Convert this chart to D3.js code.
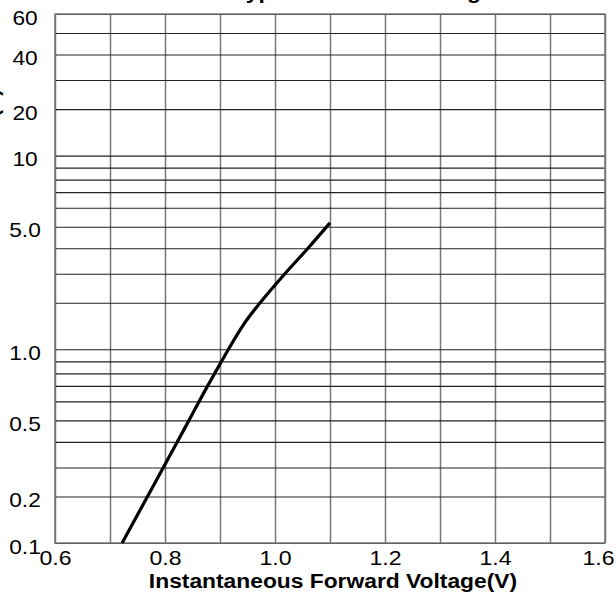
<!DOCTYPE html>
<html>
<head>
<meta charset="utf-8">
<script src="https://cdnjs.cloudflare.com/ajax/libs/d3/7.8.5/d3.min.js"></script>
<style>
body { margin: 0; background: #fff; }
svg { display: block; font-family: "Liberation Sans", Arial, sans-serif; }
</style>
</head>
<body>
<div id="chart"></div>
<script>
// DATA //
// forward voltage (V) vs instantaneous forward current (A)
const voltage = [0.722, 0.797, 0.8436, 0.8776, 0.941, 0.973, 1.018, 1.06, 1.10]
const current = [0.1, 0.3, 0.5, 0.7, 1.5, 2.0, 3.0, 4.0, 5.2]

const xGridValues = [0.6, 0.7, 0.8, 0.9, 1.0, 1.1, 1.2, 1.3, 1.4, 1.5, 1.6]
const xTickLabels = [0.6, 0.8, 1.0, 1.2, 1.4, 1.6]

const yGridValues = [
    0.1, 0.2, 0.3, 0.4, 0.5, 0.6, 0.7, 0.8, 0.9,
    1, 2, 3, 4, 5, 6, 7, 8, 9,
    10, 20, 30, 40, 50, 60
]
const yTickLabels = [0.1, 0.2, 0.5, 1, 5, 10, 20, 40, 60]

const titleText = "Typical Forward Voltage"
const xLabelText = "Instantaneous Forward Voltage(V)"
const yLabelText = "Instantaneous Forward Current(A)"

// GLOBAL VARIABLES //
let dimensions = {
    width: 616,
    height: 610,
    margin: {
        top: 14,
        right: 11,
        bottom: 67,
        left: 55,
    },
}

dimensions.boundedWidth = dimensions.width
    - dimensions.margin.left
    - dimensions.margin.right

dimensions.boundedHeight = dimensions.height
    - dimensions.margin.top
    - dimensions.margin.bottom

// the printed chart paper is not a true log grid: every decade
// repeats this spacing for mantissa 1..10 (fraction of one decade)
const decadeShape = [0, 46.5, 75.5, 101, 122.5, 141.5, 157, 169.5, 181.5, 193.5]
    .map(d => d / 193.5)

const yMin = yGridValues[0]

function paperPosition(v) {
    const k = Math.floor(Math.log10(v / yMin) + 1e-9)
    const m = Math.round(v / (yMin * Math.pow(10, k)))
    return k + decadeShape[m - 1]
}

const yTop = paperPosition(yGridValues[yGridValues.length - 1])
const decadePx = dimensions.boundedHeight / yTop

// Create scales
const xScale = d3.scaleLinear()
    .domain([xGridValues[0], xGridValues[xGridValues.length - 1]])
    .range([0, dimensions.boundedWidth])

const yScale = d3.scaleLinear()
    .domain(yGridValues)
    .range(yGridValues.map(v => dimensions.boundedHeight - paperPosition(v) * decadePx))

const xAccessor = (d, i) => voltage[i]
const yAccessor = (d, i) => current[i]

const yFormat = d => d >= 10 ? d3.format("d")(d) : d3.format(".1f")(d)

// widen glyphs a little, the source lettering is stretched
function stretch(sel, k) {
    sel.each(function() {
        const len = this.getComputedTextLength()
        d3.select(this)
            .attr("textLength", len * k)
            .attr("lengthAdjust", "spacingAndGlyphs")
    })
}

function drawChart() {
    const wrapper = d3.select("#chart")
        .append("svg")
        .attr("width", dimensions.width)
        .attr("height", dimensions.height)

    const bounds = wrapper.append("g")
        .attr("transform", `translate(${dimensions.margin.left},${dimensions.margin.top})`)

    // grid
    const xGrid = d3.axisBottom(xScale)
        .tickValues(xGridValues)
        .tickSize(-dimensions.boundedHeight)
        .tickFormat("")

    bounds.append("g")
        .attr("class", "x-grid")
        .attr("transform", `translate(0,${dimensions.boundedHeight})`)
        .call(xGrid)
        .call(g => g.select(".domain").remove())
        .selectAll("line")
        .attr("stroke", "#777")
        .attr("stroke-width", 1.5)

    const yGrid = d3.axisLeft(yScale)
        .tickValues(yGridValues)
        .tickSize(-dimensions.boundedWidth)
        .tickFormat("")

    bounds.append("g")
        .attr("class", "y-grid")
        .call(yGrid)
        .call(g => g.select(".domain").remove())
        .selectAll("line")
        .attr("stroke", "#222")
        .attr("stroke-width", 1.1)

    bounds.append("rect")
        .attr("width", dimensions.boundedWidth)
        .attr("height", dimensions.boundedHeight)
        .attr("fill", "none")
        .attr("stroke", "#777")
        .attr("stroke-width", 1.5)

    // tick labels
    const xLabels = bounds.append("g")
        .attr("transform", `translate(0,${dimensions.boundedHeight})`)
        .call(d3.axisBottom(xScale)
            .tickValues(xTickLabels)
            .tickSize(0)
            .tickFormat(d3.format(".1f")))
        .attr("font-size", null)
        .attr("font-family", null)
        .call(g => g.select(".domain").remove())

    xLabels.selectAll("text")
        .attr("y", 22)
        .attr("dy", null)
        .attr("fill", "#000")
        .style("font-size", "21px")
        .call(stretch, 1.1)

    // keep the last label inside the page, like the source does
    xLabels.selectAll("text").each(function(d) {
        const box = this.getBBox()
        const right = dimensions.margin.left + xScale(d) + box.x + box.width
        const over = right - (dimensions.width - 2)
        if (over > 0) d3.select(this).attr("x", -over)
    })

    const yLabels = bounds.append("g")
        .call(d3.axisLeft(yScale)
            .tickValues(yTickLabels)
            .tickSize(0)
            .tickFormat(yFormat))
        .attr("font-size", null)
        .attr("font-family", null)
        .call(g => g.select(".domain").remove())

    yLabels.selectAll("text")
        .attr("x", -30)
        .attr("dy", null)
        .attr("y", 10)
        .attr("text-anchor", "middle")
        .attr("fill", "#000")
        .style("font-size", "21px")
        .call(stretch, 1.08)

    // curve
    const lineGenerator = d3.line()
        .x((d, i) => xScale(xAccessor(d, i)))
        .y((d, i) => yScale(yAccessor(d, i)))
        .curve(d3.curveCatmullRom.alpha(0.5))

    bounds.append("path")
        .datum(voltage)
        .attr("d", lineGenerator)
        .attr("fill", "none")
        .attr("stroke", "#000")
        .attr("stroke-width", 3.2)

    // axis titles
    wrapper.append("text")
        .attr("x", dimensions.margin.left + dimensions.boundedWidth / 2 + 3)
        .attr("y", 588)
        .attr("text-anchor", "middle")
        .style("font-size", "20px")
        .style("font-weight", "bold")
        .text(xLabelText)
        .call(stretch, 1.14)

    // title and y label are mostly cropped off in the source
    wrapper.append("text")
        .attr("x", 233.5)
        .attr("y", -1)
        .style("font-size", "20px")
        .style("font-weight", "bold")
        .text(titleText)
        .call(stretch, 1.14)

    wrapper.append("text")
        .attr("transform", "translate(-1.5,89) rotate(-90)")
        .attr("text-anchor", "end")
        .style("font-size", "20px")
        .style("font-weight", "bold")
        .text(yLabelText)
}

drawChart()
</script>
</body>
</html>
